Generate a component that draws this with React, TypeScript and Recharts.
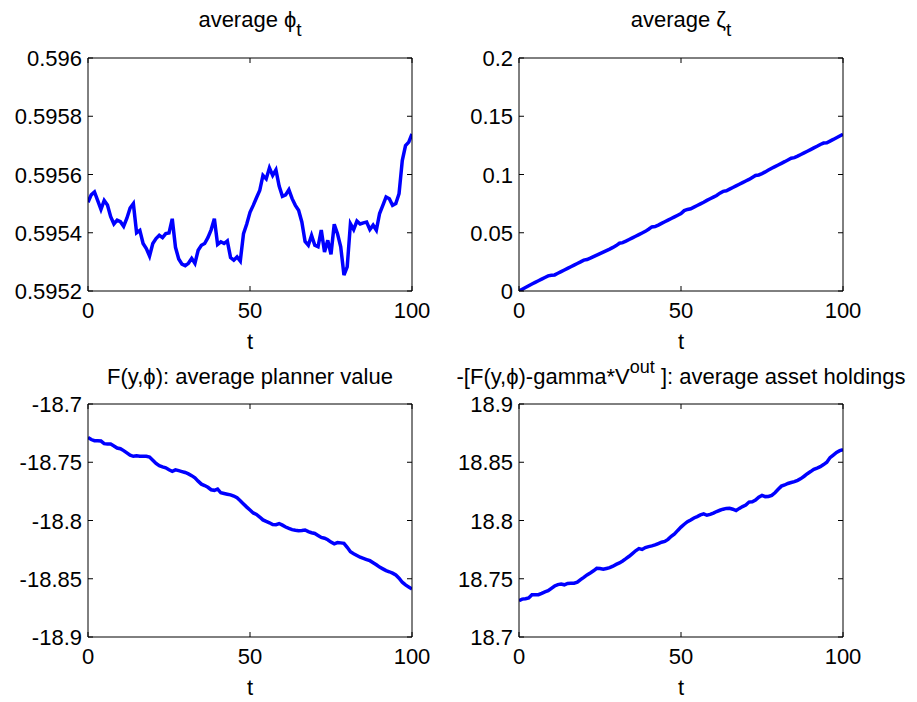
import React from "react";
import { LineChart, Line, XAxis, YAxis } from "recharts";

const FONT = "'Liberation Sans', Arial, Helvetica, sans-serif";

// time steps 0..100
const tSteps = Array.from({ length: 101 }, (_, i) => i);

// average phi_t
const phiValues = [
  0.595505, 0.59553, 0.59554, 0.59551, 0.59548, 0.595511, 0.595495, 0.595455, 0.59543, 0.595443,
  0.595438, 0.595422, 0.59545, 0.595485, 0.5955, 0.5954, 0.595408, 0.595363, 0.595346, 0.59532,
  0.595363, 0.59538, 0.595391, 0.595383, 0.595397, 0.595399, 0.595448, 0.59535, 0.59531, 0.595292,
  0.595287, 0.595295, 0.595312, 0.595295, 0.59534, 0.595357, 0.595363, 0.595383, 0.59541, 0.595448,
  0.59536, 0.595369, 0.595363, 0.595372, 0.595315, 0.595306, 0.595317, 0.595303, 0.595397, 0.59543,
  0.59547, 0.595494, 0.59552, 0.595545, 0.595597, 0.595585, 0.595623, 0.595597, 0.595616, 0.59556,
  0.595525, 0.59553, 0.595548, 0.595517, 0.595494, 0.595477, 0.595437, 0.59537, 0.595357, 0.595391,
  0.595357, 0.595352, 0.595409, 0.595334, 0.595374, 0.595326, 0.595429, 0.595397, 0.595352, 0.595255,
  0.595283, 0.595431, 0.595411, 0.59544, 0.59543, 0.595434, 0.595437, 0.595411, 0.595426, 0.595409,
  0.595466, 0.595494, 0.595523, 0.595517, 0.595494, 0.5955, 0.595534, 0.595648, 0.595699, 0.595711,
  0.595739,
];

// average zeta_t
const zetaValues = [
  0.0, 0.0015, 0.003, 0.0045, 0.006, 0.0074, 0.0088, 0.0102, 0.0116, 0.013,
  0.0135, 0.0138, 0.0152, 0.0166, 0.018, 0.0194, 0.0208, 0.0222, 0.0236, 0.025,
  0.0265, 0.027, 0.0282, 0.0295, 0.0308, 0.0321, 0.0334, 0.0347, 0.036, 0.0374,
  0.039, 0.041, 0.0415, 0.0428, 0.0442, 0.0456, 0.047, 0.0484, 0.0498, 0.0512,
  0.053, 0.055, 0.0553, 0.0566, 0.058, 0.0594, 0.0608, 0.0622, 0.0636, 0.065,
  0.0664, 0.069, 0.07, 0.0706, 0.072, 0.0734, 0.0748, 0.0762, 0.0778, 0.0792,
  0.0806, 0.082, 0.084, 0.0855, 0.086, 0.0874, 0.0888, 0.0902, 0.0916, 0.093,
  0.0944, 0.0958, 0.0975, 0.0992, 0.0996, 0.1008, 0.1022, 0.1038, 0.1054, 0.1068,
  0.1082, 0.1096, 0.111, 0.1125, 0.114, 0.1145, 0.1158, 0.1172, 0.1186, 0.12,
  0.1214, 0.1228, 0.1242, 0.1258, 0.127, 0.1273, 0.1287, 0.1301, 0.1316, 0.1331,
  0.1346,
];

// F(y,phi): average planner value
const plannerValues = [
  -18.7287, -18.7305, -18.7315, -18.7315, -18.7318, -18.734, -18.7344, -18.7344, -18.736, -18.7378,
  -18.7384, -18.74, -18.742, -18.744, -18.7449, -18.7445, -18.7449, -18.7449, -18.7449, -18.7455,
  -18.7482, -18.751, -18.753, -18.754, -18.7548, -18.7565, -18.7578, -18.7565, -18.7572, -18.758,
  -18.7588, -18.76, -18.7615, -18.7634, -18.7662, -18.7688, -18.77, -18.7715, -18.7736, -18.7741,
  -18.773, -18.7762, -18.7768, -18.7774, -18.778, -18.779, -18.7805, -18.783, -18.7858, -18.7885,
  -18.791, -18.7935, -18.7948, -18.797, -18.7995, -18.8008, -18.802, -18.8035, -18.8036, -18.8026,
  -18.804, -18.8056, -18.8068, -18.8078, -18.8084, -18.8088, -18.8086, -18.8082, -18.8096, -18.8105,
  -18.8111, -18.8128, -18.8145, -18.8152, -18.8165, -18.8185, -18.82, -18.819, -18.8192, -18.8196,
  -18.823, -18.8268, -18.8285, -18.83, -18.8315, -18.8325, -18.8335, -18.8345, -18.8362, -18.838,
  -18.84, -18.8415, -18.843, -18.844, -18.8452, -18.8468, -18.8495, -18.853, -18.8552, -18.8572,
  -18.8588,
];

// -[F(y,phi)-gamma*V^out]: average asset holdings
const assetValues = [
  18.7312, 18.7325, 18.7329, 18.7335, 18.7363, 18.7363, 18.7363, 18.7375, 18.7388, 18.7397,
  18.7418, 18.7438, 18.745, 18.7455, 18.7448, 18.746, 18.7462, 18.7462, 18.747, 18.7492,
  18.7512, 18.7533, 18.755, 18.7568, 18.759, 18.7588, 18.7581, 18.7588, 18.7595, 18.7608,
  18.7623, 18.7636, 18.7652, 18.7672, 18.7693, 18.7716, 18.774, 18.7759, 18.7752, 18.7768,
  18.7776, 18.7782, 18.779, 18.7802, 18.7814, 18.782, 18.7838, 18.7864, 18.7885, 18.7915,
  18.7943, 18.7968, 18.799, 18.8005, 18.8022, 18.8034, 18.8048, 18.8057, 18.8045, 18.8052,
  18.8063, 18.8077, 18.8088, 18.8097, 18.8104, 18.8105, 18.8097, 18.8085, 18.8104, 18.812,
  18.8132, 18.8158, 18.8161, 18.8175, 18.82, 18.8215, 18.8205, 18.8206, 18.8215, 18.8238,
  18.8268, 18.8295, 18.8305, 18.8318, 18.8326, 18.8333, 18.8345, 18.836, 18.838, 18.8402,
  18.842, 18.8439, 18.845, 18.8462, 18.848, 18.85, 18.854, 18.8562, 18.8585, 18.86,
  18.8609,
];

const tTicks = [0, 50, 100];
const phiTicks = [0.5952, 0.5954, 0.5956, 0.5958, 0.596];
const zetaTicks = [0, 0.05, 0.1, 0.15, 0.2];
const plannerTicks = [-18.9, -18.85, -18.8, -18.75, -18.7];
const assetTicks = [18.7, 18.75, 18.8, 18.85, 18.9];

const rows = tSteps.map((t, i) => ({
  t,
  phi: phiValues[i],
  zeta: zetaValues[i],
  planner: plannerValues[i],
  assets: assetValues[i],
}));

const PLOT_LEFT = 88;
const PLOT_TOP = 57;
const PLOT_W = 324;
const PLOT_H = 234;
const CHART_W = 460;
const CHART_H = 351;

const BottomTick = (props: any) => {
  const { x, y, payload } = props;
  return (
    <g>
      <line x1={x} y1={y} x2={x} y2={y - 5} stroke="#000" />
      <text x={x} y={y + 27} textAnchor="middle" fontSize={22} fontFamily={FONT} fill="#000">
        {payload.value}
      </text>
    </g>
  );
};

const TopTick = (props: any) => {
  const { x, y } = props;
  return <line x1={x} y1={y} x2={x} y2={y + 5} stroke="#000" />;
};

const LeftTick = (props: any) => {
  const { x, y, payload } = props;
  return (
    <g>
      <line x1={x} y1={y} x2={x + 5} y2={y} stroke="#000" />
      <text x={x - 6} y={y + 8} textAnchor="end" fontSize={22} fontFamily={FONT} fill="#000">
        {payload.value}
      </text>
    </g>
  );
};

const RightTick = (props: any) => {
  const { x, y } = props;
  return <line x1={x} y1={y} x2={x - 5} y2={y} stroke="#000" />;
};

type PanelProps = {
  left: number;
  top: number;
  dataKey: string;
  yTicks: number[];
  titleY: number;
  title: React.ReactNode;
};

const Panel = ({ left, top, dataKey, yTicks, titleY, title }: PanelProps) => {
  const domain = [yTicks[0], yTicks[yTicks.length - 1]];
  return (
    <div style={{ position: "absolute", left, top, width: CHART_W, height: CHART_H }}>
      <LineChart
        width={CHART_W}
        height={CHART_H}
        data={rows}
        margin={{ top: PLOT_TOP, right: CHART_W - PLOT_LEFT - PLOT_W - 1, bottom: 0, left: 0 }}
      >
        <XAxis
          xAxisId="bottom"
          dataKey="t"
          type="number"
          domain={[0, 100]}
          ticks={tTicks}
          interval={0}
          allowDataOverflow
          height={CHART_H - PLOT_TOP - PLOT_H}
          tickSize={0}
          tickMargin={0}
          tick={<BottomTick />}
          axisLine={{ stroke: "#000" }}
        />
        <XAxis
          xAxisId="top"
          orientation="top"
          dataKey="t"
          type="number"
          domain={[0, 100]}
          ticks={tTicks}
          interval={0}
          allowDataOverflow
          height={1}
          tickSize={0}
          tickMargin={0}
          tick={<TopTick />}
          axisLine={{ stroke: "#000" }}
        />
        <YAxis
          yAxisId="left"
          type="number"
          domain={domain}
          ticks={yTicks}
          interval={0}
          allowDataOverflow
          width={PLOT_LEFT}
          tickSize={0}
          tickMargin={0}
          tick={<LeftTick />}
          axisLine={{ stroke: "#000" }}
        />
        <YAxis
          yAxisId="right"
          orientation="right"
          type="number"
          domain={domain}
          ticks={yTicks}
          interval={0}
          allowDataOverflow
          width={1}
          tickSize={0}
          tickMargin={0}
          tick={<RightTick />}
          axisLine={{ stroke: "#000" }}
        />
        {/* invisible twin so the mirrored box axes have a series bound to them */}
        <Line
          xAxisId="top"
          yAxisId="right"
          type="linear"
          dataKey={dataKey}
          stroke="none"
          dot={false}
          activeDot={false}
          isAnimationActive={false}
        />
        <Line
          xAxisId="bottom"
          yAxisId="left"
          type="linear"
          dataKey={dataKey}
          stroke="#0000ff"
          strokeWidth={3.5}
          dot={false}
          activeDot={false}
          isAnimationActive={false}
        />
      </LineChart>
      <svg
        width={CHART_W}
        height={CHART_H + 10}
        style={{ position: "absolute", left: 0, top: 0, pointerEvents: "none", overflow: "visible" }}
      >
        <text
          x={PLOT_LEFT + PLOT_W / 2}
          y={titleY}
          textAnchor="middle"
          fontSize={22}
          fontFamily={FONT}
          fill="#000"
        >
          {title}
        </text>
        <text
          x={PLOT_LEFT + PLOT_W / 2}
          y={PLOT_TOP + PLOT_H + 58}
          textAnchor="middle"
          fontSize={22}
          fontFamily={FONT}
          fill="#000"
        >
          t
        </text>
      </svg>
    </div>
  );
};

export default function App() {
  return (
    <div
      style={{
        position: "absolute",
        left: 0,
        top: 0,
        width: 917,
        height: 702,
        background: "#fff",
        overflow: "hidden",
      }}
    >
      <Panel
        left={0}
        top={0}
        dataKey="phi"
        yTicks={phiTicks}
        titleY={27}
        title={
          <>
            average ϕ
            <tspan dy={9} fontSize={19}>
              t
            </tspan>
          </>
        }
      />
      <Panel
        left={431}
        top={0}
        dataKey="zeta"
        yTicks={zetaTicks}
        titleY={27}
        title={
          <>
            average ζ
            <tspan dy={9} fontSize={19}>
              t
            </tspan>
          </>
        }
      />
      <Panel
        left={0}
        top={346}
        dataKey="planner"
        yTicks={plannerTicks}
        titleY={38}
        title={<>F(y,ϕ): average planner value</>}
      />
      <Panel
        left={431}
        top={346}
        dataKey="assets"
        yTicks={assetTicks}
        titleY={38}
        title={
          <>
            -[F(y,ϕ)-gamma*V
            <tspan dy={-11} fontSize={18}>
              out
            </tspan>
            <tspan dy={11}> ]: average asset holdings</tspan>
          </>
        }
      />
    </div>
  );
}
